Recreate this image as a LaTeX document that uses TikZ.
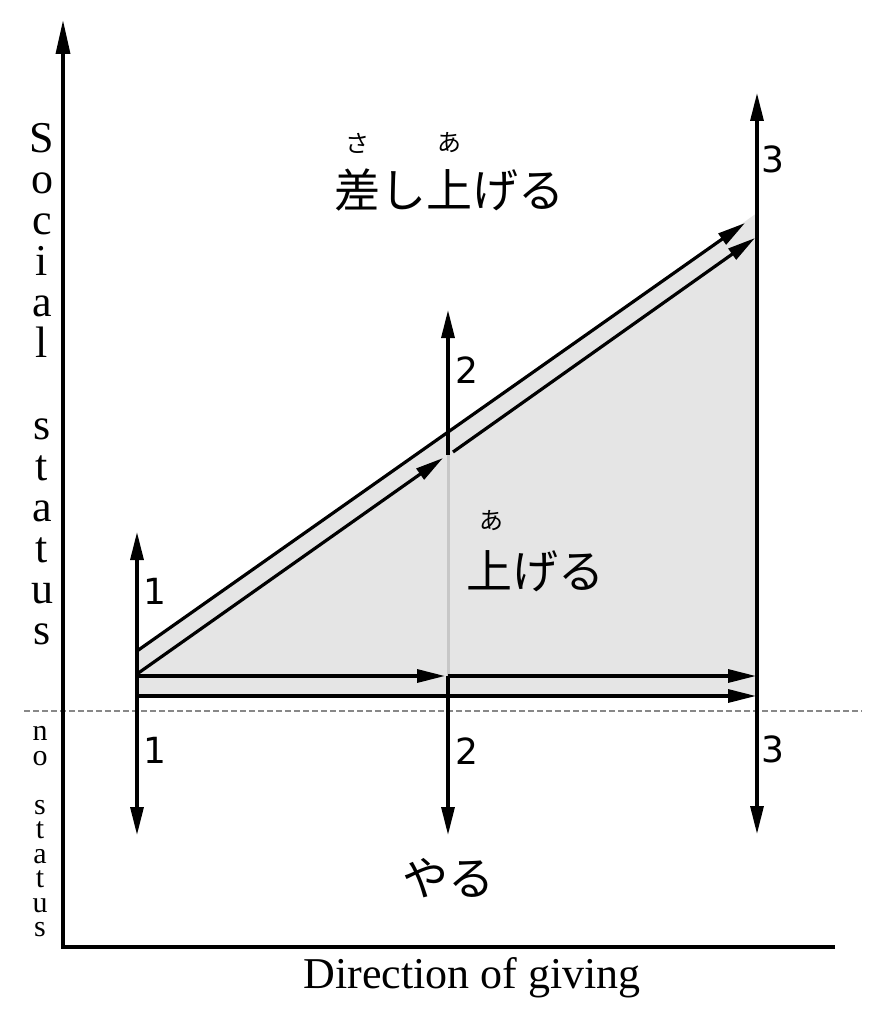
\documentclass[tikz,border=0pt]{standalone}
\usepackage{fontspec}
\setmainfont{Liberation Serif}
\newfontfamily\cjk{Noto Sans CJK JP}
\newfontfamily\dvs{DejaVu Sans}
\usetikzlibrary{arrows.meta}
\definecolor{areagray}{gray}{0.9}
\definecolor{dashgray}{RGB}{136,136,136}
\definecolor{seamgray}{gray}{0.78}
\begin{document}
\begin{tikzpicture}[x=1pt,y=-1pt,
  ln/.style={line width=3.2pt},
  arr/.style={ln,-{Triangle[length=28pt,width=13pt]}},
  darr/.style={ln,{Triangle[length=28pt,width=13pt]}-{Triangle[length=28pt,width=13pt]}},
  num/.style={font=\dvs\fontsize{36}{36}\selectfont, inner sep=0pt},
  jp/.style={font=\cjk\fontsize{46}{46}\selectfont, inner sep=0pt},
  ruby/.style={font=\cjk\fontsize{24}{24}\selectfont, inner sep=0pt},
  big/.style={font=\fontsize{44}{44}\selectfont, inner sep=0pt, anchor=base},
  small/.style={font=\fontsize{30}{24.5}\selectfont, inner sep=0pt, align=center, anchor=south}]
\useasboundingbox (0,0) rectangle (882,1022);
\fill[white] (0,0) rectangle (882,1022);

% coordinates
\coordinate (g1) at (137,651);
\coordinate (g2) at (757,213);
\coordinate (g3) at (757,696);
\coordinate (g4) at (137,696);

% shaded region
\fill[areagray] (g1) -- (g2) -- (g3) -- (g4) -- cycle;

% seam at x=448 inside the shading
\coordinate (m1) at (448,455);
\coordinate (m2) at (448,676);
\draw[seamgray, line width=3pt] (m1) -- (m2);

% dashed status boundary
\coordinate (d1) at (24,711);
\coordinate (d2) at (862,711);
\draw[dashgray, line width=2.5pt, dash pattern=on 6pt off 3pt] (d1) -- (d2);

% axes
\coordinate (o) at (63,947);
\coordinate (ytop) at (63,20);
\coordinate (xend) at (835,947);
\draw[line width=3.5pt, -{Triangle[length=34pt,width=14pt]}] (xend) -- (o) -- (ytop);

% vertical double arrows
\coordinate (a1t) at (137,532);
\coordinate (a1b) at (137,835);
\draw[darr] (a1t) -- (a1b);
\coordinate (a2t) at (448,310);
\coordinate (a2b) at (448,835);
\draw[arr] (m1) -- (a2t);
\draw[arr] (m2) -- (a2b);
\coordinate (a3t) at (757,93);
\coordinate (a3b) at (757,834);
\draw[darr] (a3t) -- (a3b);

% diagonals
\coordinate (u1) at (137,651);
\coordinate (u2) at (745,223);
\draw[arr] (u1) -- (u2);
\coordinate (l1) at (137,674);
\coordinate (l2) at (443,458);
\coordinate (l3) at (453,452);
\coordinate (l4) at (755,238);
\draw[arr] (l1) -- (l2);
\draw[arr] (l3) -- (l4);

% horizontals
\coordinate (h1) at (137,676);
\coordinate (h2) at (445,676);
\coordinate (h3) at (448,676);
\coordinate (h4) at (756,676);
\draw[arr] (h1) -- (h2);
\draw[arr] (h3) -- (h4);
\coordinate (b1) at (137,696);
\coordinate (b2) at (756,696);
\draw[arr] (b1) -- (b2);

% number labels
\node[num] (n1u) at (155,591) {1};
\node[num] (n1d) at (155,750) {1};
\node[num] (n2u) at (467,370) {2};
\node[num] (n2d) at (467,751) {2};
\node[num] (n3u) at (773,159) {3};
\node[num] (n3d) at (773,749) {3};

% Japanese labels
\node[jp] (sashiageru) at (449,190) {差し上げる};
\node[ruby] (rsa) at (357,143) {さ};
\node[ruby] (ra1) at (449,143) {あ};
\node[jp] (ageru) at (535,571) {上げる};
\node[ruby] (ra2) at (491,521) {あ};
\node[jp] (yaru) at (448,878) {やる};

% vertical axis text
\foreach \l/\y [count=\i] in {S/152,o/193,c/234,i/275,a/316,l/357,s/439,t/480,a/521,t/562,u/603,s/644}
  \node[big] (soc\i) at (42,\y) {\l};
\node[small] (nostatus) at (40,937) {n\\o\\\mbox{}\\s\\t\\a\\t\\u\\s};

% x-axis label
\node[big] (xlabel) at (472,988) {Direction of giving};
\end{tikzpicture}
\end{document}
